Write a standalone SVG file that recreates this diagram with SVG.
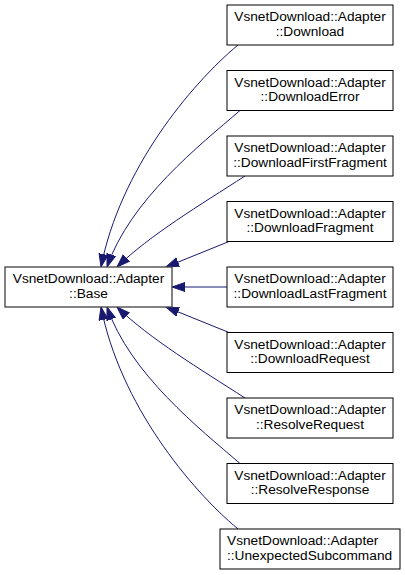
<svg xmlns="http://www.w3.org/2000/svg" width="405" height="575" viewBox="0 0 405 575">
<style>
.box{fill:#ffffff;stroke:#000000;stroke-width:1}
.base{fill:#ffffff;stroke:#404040;stroke-width:1.3}
text{font-family:"Liberation Sans",Arial,sans-serif;font-size:13.7px;fill:#000000}
.c{text-anchor:middle}
.l{text-anchor:start}
.e{fill:none;stroke:#191970;stroke-width:1}
</style>
<defs>
<marker id="ah" markerUnits="userSpaceOnUse" markerWidth="16" markerHeight="12" refX="13" refY="5" orient="auto" viewBox="0 0 16 12">
<path d="M0,0.5 L13,5 L0,9.5 Z" fill="#191970" stroke="#191970" stroke-width="1"/>
</marker>
</defs>
<rect width="405" height="575" fill="#ffffff"/>
<g id="edges">
<path class="e" marker-end="url(#ah)" d="M238,45 C190,85 120,170 101,267"/>
<path class="e" marker-end="url(#ah)" d="M240,110.5 C200,145 130,200 107,267"/>
<path class="e" marker-end="url(#ah)" d="M245,176 C200,205 150,235 117,267"/>
<path class="e" marker-end="url(#ah)" d="M229,241.5 L166,267"/>
<path class="e" marker-end="url(#ah)" d="M227,287 L172,287"/>
<path class="e" marker-end="url(#ah)" d="M229,332.5 L166,307"/>
<path class="e" marker-end="url(#ah)" d="M245,398 C200,369 150,339 117,307"/>
<path class="e" marker-end="url(#ah)" d="M240,463.5 C200,429 130,374 107,307"/>
<path class="e" marker-end="url(#ah)" d="M238,529 C190,489 120,404 101,307"/>
</g>
<g id="base">
<rect class="base" x="5" y="267" width="167" height="40"/>
<text class="c" x="88.5" y="283">VsnetDownload::Adapter</text>
<text class="c" x="88.5" y="297.5">::Base</text>
</g>
<g id="download">
<rect class="box" x="227" y="5" width="166" height="40"/>
<text class="c" x="310" y="21">VsnetDownload::Adapter</text>
<text class="c" x="310" y="35.5">::Download</text>
</g>
<g id="downloaderror">
<rect class="box" x="227" y="70.5" width="166" height="40"/>
<text class="c" x="310" y="86.5">VsnetDownload::Adapter</text>
<text class="c" x="310" y="101">::DownloadError</text>
</g>
<g id="downloadfirstfragment">
<rect class="box" x="227" y="136" width="166" height="40"/>
<text class="c" x="310" y="152">VsnetDownload::Adapter</text>
<text class="c" x="310" y="166.5">::DownloadFirstFragment</text>
</g>
<g id="downloadfragment">
<rect class="box" x="227" y="201.5" width="166" height="40"/>
<text class="c" x="310" y="217.5">VsnetDownload::Adapter</text>
<text class="c" x="310" y="232">::DownloadFragment</text>
</g>
<g id="downloadlastfragment">
<rect class="box" x="227" y="267" width="166" height="40"/>
<text class="c" x="310" y="283">VsnetDownload::Adapter</text>
<text class="c" x="310" y="297.5">::DownloadLastFragment</text>
</g>
<g id="downloadrequest">
<rect class="box" x="227" y="332.5" width="166" height="40"/>
<text class="c" x="310" y="348.5">VsnetDownload::Adapter</text>
<text class="c" x="310" y="363">::DownloadRequest</text>
</g>
<g id="resolverequest">
<rect class="box" x="227" y="398" width="166" height="40"/>
<text class="c" x="310" y="414">VsnetDownload::Adapter</text>
<text class="c" x="310" y="428.5">::ResolveRequest</text>
</g>
<g id="resolveresponse">
<rect class="box" x="227" y="463.5" width="166" height="40"/>
<text class="c" x="310" y="479.5">VsnetDownload::Adapter</text>
<text class="c" x="310" y="494">::ResolveResponse</text>
</g>
<g id="unexpectedsubcommand">
<rect class="box" x="220" y="529" width="180" height="40"/>
<text class="l" x="227" y="545">VsnetDownload::Adapter</text>
<text class="l" x="227" y="559.5">::UnexpectedSubcommand</text>
</g>
</svg>
